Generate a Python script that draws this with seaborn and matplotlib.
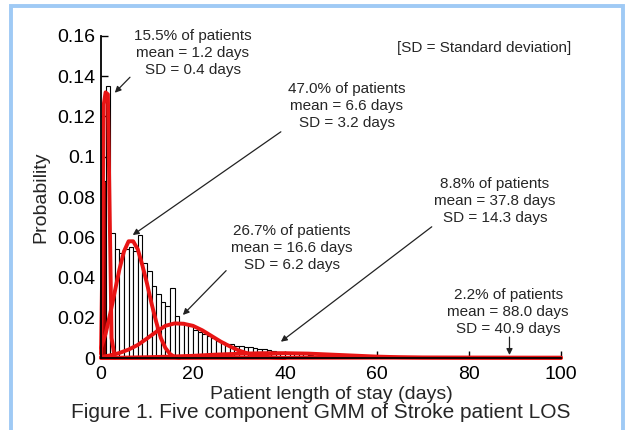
import matplotlib
matplotlib.use("Agg")
import matplotlib.pyplot as plt
from matplotlib.patches import Rectangle
import numpy as np
import pandas as pd
import seaborn as sns

# ---- data ----
bin_left = list(range(0, 46))
bin_prob = [0.088, 0.135, 0.062, 0.054, 0.052, 0.054, 0.055, 0.053, 0.061, 0.047,
            0.043, 0.036, 0.032, 0.028, 0.026, 0.035, 0.021, 0.018, 0.017, 0.016,
            0.014, 0.013, 0.012, 0.011, 0.010, 0.0085, 0.0078, 0.0072, 0.0068, 0.0062,
            0.0058, 0.0054, 0.0056, 0.0048, 0.0045, 0.0046, 0.0040, 0.0035, 0.0030, 0.0028,
            0.0026, 0.0024, 0.0022, 0.0020, 0.0018, 0.0016]

c1_x = [0, 0.3, 0.6, 1.0, 1.5, 1.9, 2.3, 3.0]
c1_y = [0.002, 0.050, 0.126, 0.132, 0.131, 0.070, 0.010, 0.0]

c2_x = list(range(0, 18))
c2_y = [0.005, 0.012, 0.022, 0.033, 0.044, 0.053, 0.058, 0.058, 0.054, 0.046,
        0.037, 0.027, 0.018, 0.010, 0.005, 0.002, 0.0005, 0.0]

c3_x = [0, 2, 4, 6, 8, 10, 12, 14, 16, 18, 20, 22, 24, 26, 28, 30, 32, 34, 36, 38, 40]
c3_y = [0.0005, 0.0013, 0.0025, 0.0042, 0.0065, 0.0097, 0.0130, 0.0160, 0.0172, 0.0170,
        0.0160, 0.0138, 0.0110, 0.0082, 0.0058, 0.0037, 0.0022, 0.0012, 0.0006, 0.0002, 0.0]

c4_x = [0, 5, 10, 15, 20, 25, 30, 35, 40, 45, 50, 55, 60, 65, 70, 80, 100]
c4_y = [0.0001, 0.0002, 0.0004, 0.0007, 0.0011, 0.0017, 0.0021, 0.0024, 0.0024, 0.0022,
        0.0017, 0.0012, 0.0007, 0.0004, 0.0002, 0.0001, 0.0]

c5_x = [0, 20, 40, 60, 80, 100]
c5_y = [0.00002, 0.00006, 0.0001, 0.00016, 0.0002, 0.0002]

labels = [
    "15.5% of patients\nmean = 1.2 days\nSD = 0.4 days",
    "47.0% of patients\nmean = 6.6 days\nSD = 3.2 days",
    "26.7% of patients\nmean = 16.6 days\nSD = 6.2 days",
    "8.8% of patients\nmean = 37.8 days\nSD = 14.3 days",
    "2.2% of patients\nmean = 88.0 days\nSD = 40.9 days",
]
label_xy = [(20.0, 0.1516), (53.4, 0.1252), (41.5, 0.0547), (85.6, 0.0782), (88.5, 0.0227)]
arrow_from = [(6.3, 0.1395), (39.1, 0.1124), (27.2, 0.0434), (71.9, 0.0652), (88.8, 0.0104)]
arrow_to = [(3.0, 0.1318), (6.9, 0.0611), (17.8, 0.0214), (39.1, 0.0081), (88.8, 0.0015)]

xticks = [0, 20, 40, 60, 80, 100]
yticks = [0, 0.02, 0.04, 0.06, 0.08, 0.1, 0.12, 0.14, 0.16]
ytick_labels = ["0", "0.02", "0.04", "0.06", "0.08", "0.1", "0.12", "0.14", "0.16"]

# ---- style ----
sns.set_style("ticks")
plt.rcParams["font.family"] = ["Liberation Sans", "DejaVu Sans"]

fig = plt.figure(figsize=(6.3, 4.3), dpi=100)
ax = fig.add_axes([0.1603, 0.1674, 0.7302, 0.7489])

hist_df = pd.DataFrame({"day": [b + 0.5 for b in bin_left], "p": bin_prob})
sns.histplot(data=hist_df, x="day", weights="p", binwidth=1, binrange=(0, 46),
             stat="count", color="white", edgecolor="black", linewidth=0.8,
             alpha=1, ax=ax)
ax.patches[0].set_facecolor("#a00000")

red = "#e81414"
for xs, ys in [(c5_x, c5_y), (c4_x, c4_y), (c3_x, c3_y), (c2_x, c2_y), (c1_x, c1_y)]:
    sns.lineplot(x=xs, y=ys, color=red, linewidth=2.8, ax=ax, clip_on=False,
                 estimator=None, sort=False)

ax.set_xlim(0, 100)
ax.set_ylim(0, 0.16)
ax.set_xticks(xticks)
ax.set_xticklabels([str(t) for t in xticks])
ax.set_yticks(yticks)
ax.set_yticklabels(ytick_labels)
ax.tick_params(direction="in", length=5, width=1, labelsize=14, colors="black", pad=4)
ax.tick_params(axis="x", pad=6)
for s in ["top", "right"]:
    ax.spines[s].set_visible(False)
for s in ["left", "bottom"]:
    ax.spines[s].set_linewidth(1.3)
    ax.spines[s].set_color("black")

ax.set_xlabel("Patient length of stay (days)", fontsize=14, labelpad=2)
ax.set_ylabel("Probability", fontsize=14, labelpad=6)

for txt, (tx, ty) in zip(labels, label_xy):
    ax.text(tx, ty, txt, ha="center", va="center", fontsize=11, linespacing=1.28,
            clip_on=False)
for (sx, sy), (ex, ey) in zip(arrow_from, arrow_to):
    ax.annotate("", xy=(ex, ey), xytext=(sx, sy),
                arrowprops=dict(arrowstyle="-|>", color="#222222", lw=0.9,
                                mutation_scale=9, shrinkA=0, shrinkB=0),
                annotation_clip=False)

ax.text(83.3, 0.1539, "[SD = Standard deviation]", ha="center", va="center",
        fontsize=11, clip_on=False)

fig.text(321 / 630, 1 - 412 / 430, "Figure 1. Five component GMM of Stroke patient LOS",
         ha="center", va="center", fontsize=15)

fig.patches.append(Rectangle((11 / 630, -0.1), (623 - 11) / 630, 1.1 - 6 / 430,
                             transform=fig.transFigure, fill=False,
                             edgecolor="#9fcaf5", linewidth=2.8))

fig.savefig("out.png", dpi=100)
